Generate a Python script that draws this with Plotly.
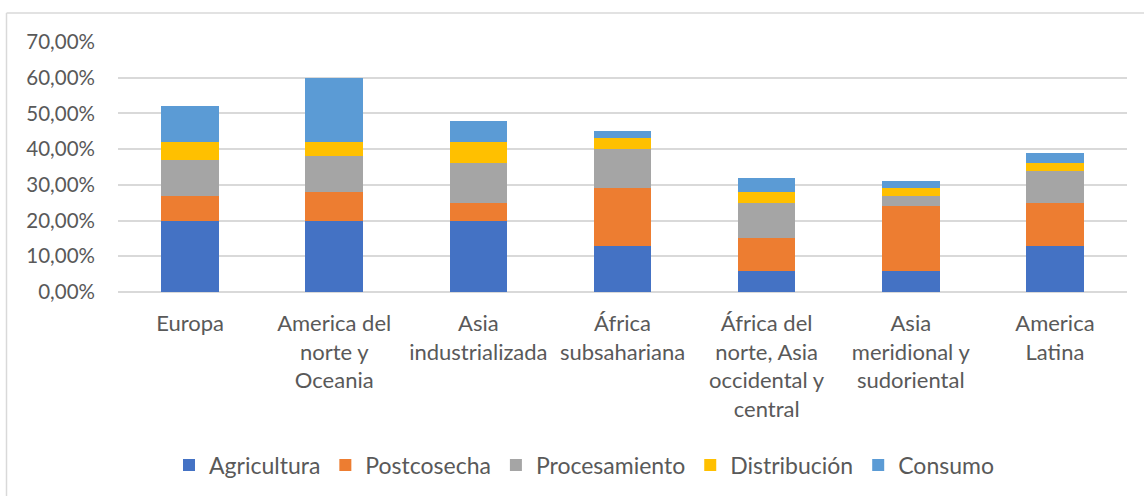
import plotly.graph_objects as go

categories = ["Europa", "America del<br>norte y<br>Oceania", "Asia<br>industrializada",
              "África<br>subsahariana", "África del<br>norte, Asia<br>occidental y<br>central",
              "Asia<br>meridional y<br>sudoriental", "America<br>Latina"]
agricultura = [0.20, 0.20, 0.20, 0.13, 0.06, 0.06, 0.13]
postcosecha = [0.07, 0.08, 0.05, 0.16, 0.09, 0.18, 0.12]
procesamiento = [0.10, 0.10, 0.11, 0.11, 0.10, 0.03, 0.09]
distribucion = [0.05, 0.04, 0.06, 0.03, 0.03, 0.02, 0.02]
consumo = [0.10, 0.18, 0.06, 0.02, 0.04, 0.02, 0.03]

series = [("Agricultura", agricultura, "#4472C4"),
          ("Postcosecha", postcosecha, "#ED7D31"),
          ("Procesamiento", procesamiento, "#A5A5A5"),
          ("Distribución", distribucion, "#FFC000"),
          ("Consumo", consumo, "#5B9BD5")]

fig = go.Figure()
for name, vals, col in series:
    fig.add_trace(go.Bar(x=categories, y=vals, name=name, marker_color=col,
                         marker_line_width=0))

W, H = 1144, 496
ml, mr, mt, mb = 118, 17, 42, 204
pw, ph = W - ml - mr, H - mt - mb
font = "Lato, Open Sans, sans-serif"

def px_x(p):
    return (p - ml) / pw

def px_y(p):
    return (H - mb - p) / ph

fig.update_layout(
    width=W, height=H, barmode="stack", bargap=0.6,
    separators=",.",
    margin=dict(l=ml, r=mr, t=mt, b=mb, autoexpand=False),
    paper_bgcolor="white", plot_bgcolor="white",
    font=dict(family=font, size=20, color="#595959"),
    showlegend=True,
    legend=dict(orientation="h", x=px_x(584), xanchor="center", y=px_y(465),
                yanchor="middle", font=dict(size=23, color="#595959"),
                traceorder="normal", itemwidth=30),
    xaxis=dict(showgrid=False, showline=False, ticks="", tickangle=0,
               tickfont=dict(size=22), ticklabelstandoff=16),
    yaxis=dict(range=[0, 0.70], dtick=0.10, tickformat=".2%", showgrid=True,
               gridcolor="#D9D9D9", gridwidth=1.5, zeroline=True,
               zerolinecolor="#D9D9D9", zerolinewidth=1.5, ticks="",
               tickfont=dict(size=20.5), ticklabelstandoff=22),
    shapes=[dict(type="line", xref="paper", yref="paper",
                 x0=px_x(6.5), x1=px_x(1150), y0=px_y(13), y1=px_y(13),
                 line=dict(color="#D9D9D9", width=1.5), layer="below"),
            dict(type="line", xref="paper", yref="paper",
                 x0=px_x(6.5), x1=px_x(6.5), y0=px_y(13), y1=px_y(500),
                 line=dict(color="#D9D9D9", width=1.5), layer="below")],
)
fig.write_html("out.html", config={"displayModeBar": False},
               post_script="document.body.style.margin='0';")
